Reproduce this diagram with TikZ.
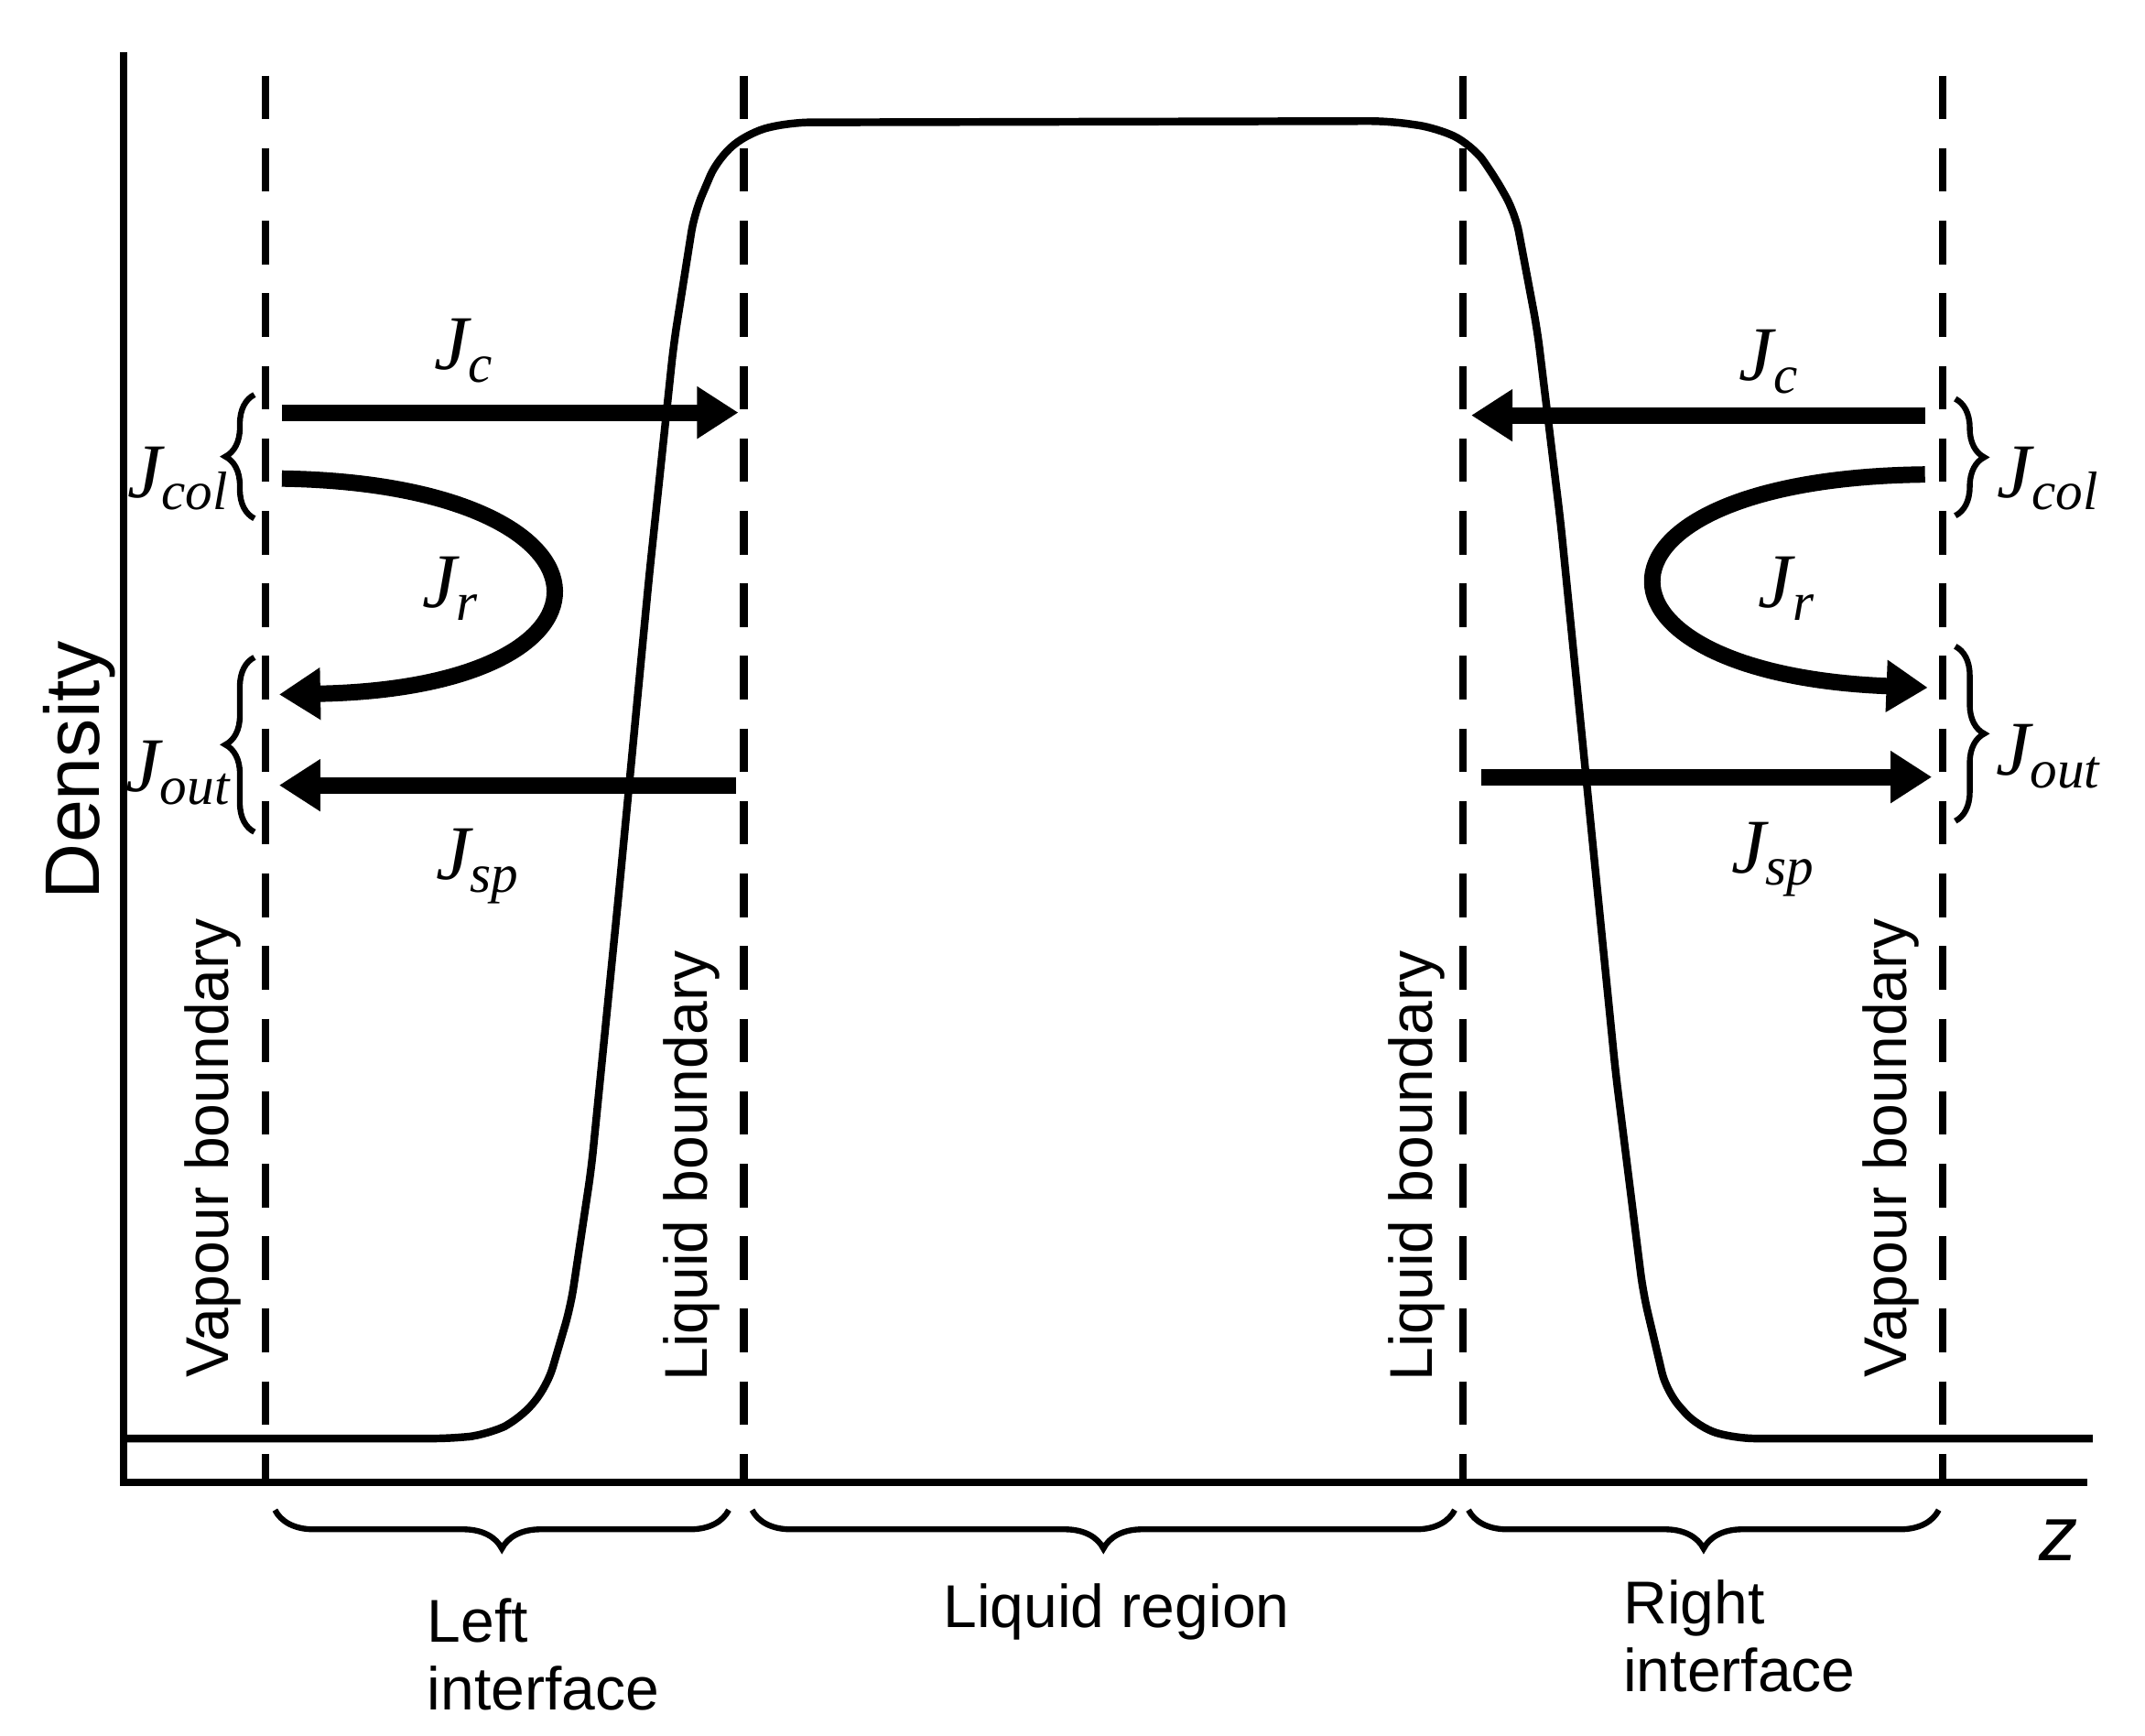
\documentclass[tikz,border=0pt]{standalone}
\usepackage{fontspec}
\setmainfont{Liberation Sans}
\newfontfamily\jfont{Liberation Serif}
\usetikzlibrary{arrows.meta,decorations.pathreplacing}
\newcommand{\Jflux}[1]{{\jfont\itshape J\textsubscript{#1}}}
\tikzset{
  bnd/.style={line width=1.6pt, dash pattern=on 9pt off 6pt},
  flux/.style={line width=3.4pt, -{Triangle[length=0.3cm,width=0.36cm]}},
  brc/.style={line width=1.2pt, decorate, decoration={brace,amplitude=6pt}},
  lab/.style={font=\fontsize{12.5}{14}\selectfont},
  jlab/.style={font=\fontsize{16}{18}\selectfont},
}
\begin{document}
\begin{tikzpicture}[x=0.01cm,y=-0.01cm]
		\useasboundingbox (0,0) rectangle (1560,1262);
		% axes
		\draw[line width=1.6pt] (90,38) -- (90,1078) -- (1518,1078);
		\node[rotate=90, font=\fontsize{16}{18}\selectfont] (dens) at (58,560) {Density};
		\node[font=\fontsize{16}{18}\selectfont\itshape] (z) at (1497,1120) {z};
		% boundaries
		\foreach \xb/\nm in {193/vl, 541/ll, 1064/lr, 1413/vr}
			\draw[bnd] (\xb,55) -- (\xb,1078) coordinate (\nm);
		\node[lab, rotate=90] (vbl) at (155,835) {Vapour boundary};
		\node[lab, rotate=90] (lbl) at (503,848) {Liquid boundary};
		\node[lab, rotate=90] (lbr) at (1030,848) {Liquid boundary};
		\node[lab, rotate=90] (vbr) at (1375,835) {Vapour boundary};
		% density profile
		\draw[line width=1.6pt, rounded corners=4pt] (90,1046) -- (330,1046) -- (355,1043) -- (378,1032) -- (398,1008)
			-- (415,950) -- (430,850) -- (450,650) -- (472,420) -- (490,250) -- (505,155) -- (522,115) -- (545,96)
			-- (575,89) -- (1010,88) -- (1045,93) -- (1070,105) -- (1085,125) -- (1102,155) -- (1118,240)
			-- (1135,380) -- (1155,580) -- (1175,780) -- (1195,940) -- (1212,1012) -- (1235,1038) -- (1262,1046) -- (1522,1046);
		% bottom braces
		\draw[brc, decoration={amplitude=8pt}] (530,1098) -- (200,1098) coordinate (lib);
		\draw[brc, decoration={amplitude=8pt}] (1058,1098) -- (547,1098);
		\draw[brc, decoration={amplitude=8pt}] (1410,1098) -- (1068,1098);
		\node[lab, align=left] (lint) at (395,1203) {Left\\interface};
		\node[lab] (lreg) at (812,1172) {Liquid region};
		\node[lab, align=left] (rint) at (1265,1190) {Right\\interface};
		% left fluxes
		\coordinate (lc0) at (205,300); \coordinate (lc1) at (537,300);
		\coordinate (lr0) at (205,348); \coordinate (lr1) at (203,505);
		\coordinate (ls0) at (535,571); \coordinate (ls1) at (203,571);
		\draw[flux] (lc0) -- (lc1);
		\draw[flux] (lr0) .. controls (460,352) and (470,500) .. (lr1);
		\draw[flux] (ls0) -- (ls1);
		\node[jlab] (jcl) at (338,255) {\Jflux{c}};
		\node[jlab] (jrl) at (328,428) {\Jflux{r}};
		\node[jlab] (jsl) at (348,630) {\Jflux{sp}};
		\draw[brc] (185,377) -- (185,287);
		\draw[brc] (185,605) -- (185,478);
		\node[jlab] (jcoll) at (130,348) {\Jflux{col}};
		\node[jlab] (joutl) at (130,562) {\Jflux{out}};
		% right fluxes
		\coordinate (rc0) at (1400,302); \coordinate (rc1) at (1070,302);
		\coordinate (rr0) at (1400,345); \coordinate (rr1) at (1402,500);
		\coordinate (rs0) at (1077,565); \coordinate (rs1) at (1405,565);
		\draw[flux] (rc0) -- (rc1);
		\draw[flux] (rr0) .. controls (1140,348) and (1140,490) .. (rr1);
		\draw[flux] (rs0) -- (rs1);
		\node[jlab] (jcr) at (1287,263) {\Jflux{c}};
		\node[jlab] (jrr) at (1300,428) {\Jflux{r}};
		\node[jlab] (jsr) at (1290,625) {\Jflux{sp}};
		\draw[brc] (1422,290) -- (1422,375);
		\draw[brc] (1422,470) -- (1422,597);
		\node[jlab] (jcolr) at (1490,348) {\Jflux{col}};
		\node[jlab] (joutr) at (1490,550) {\Jflux{out}};
	\end{tikzpicture}
\end{document}
